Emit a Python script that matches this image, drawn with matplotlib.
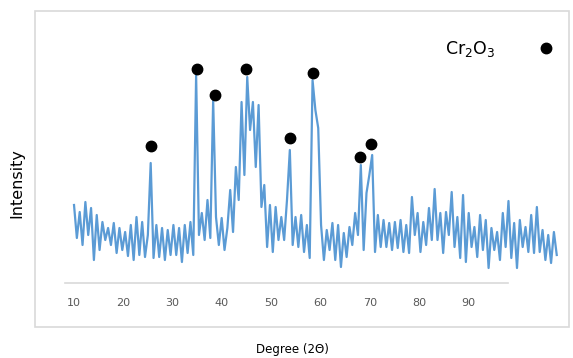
import numpy as np
import matplotlib
matplotlib.use("Agg")
import matplotlib.pyplot as plt
from matplotlib.patches import Rectangle

# XRD pattern of Cr2O3 (intensity in arbitrary units, equal 2theta steps)
start_2theta = 10.0
step_2theta = 0.576
intensity = [
    85, 52, 78, 45, 88, 55, 82, 30, 75, 40,
    68, 50, 62, 45, 67, 37, 62, 40, 58, 34,
    65, 30, 73, 35, 68, 33, 55, 127, 32, 65,
    33, 62, 30, 60, 35, 65, 35, 62, 28, 65,
    37, 68, 35, 215, 55, 77, 50, 90, 52, 190,
    73, 45, 72, 40, 62, 100, 58, 123, 90, 188,
    115, 213, 160, 188, 123, 185, 83, 105, 43, 85,
    38, 83, 50, 73, 50, 90, 140, 45, 73, 43,
    75, 38, 65, 32, 210, 180, 162, 65, 30, 60,
    40, 67, 30, 65, 23, 57, 33, 63, 45, 77,
    55, 125, 40, 97, 115, 135, 38, 75, 43, 70,
    43, 67, 40, 68, 42, 70, 38, 65, 37, 93,
    55, 77, 38, 68, 45, 82, 50, 101, 50, 77,
    37, 78, 55, 98, 43, 73, 32, 95, 28, 77,
    43, 63, 33, 75, 40, 70, 22, 62, 40, 58,
    30, 77, 43, 89, 32, 67, 22, 70, 43, 63,
    38, 75, 37, 83, 38, 60, 30, 55, 27, 58,
    35,
]
two_theta = start_2theta + step_2theta * np.arange(len(intensity))

# Cr2O3 peak markers
peak_2theta = [25.56, 35.01, 38.54, 44.95, 53.75, 58.48, 67.95, 70.30]
peak_marker = [144, 221, 195, 221, 152, 217, 133, 146]

tick_values = [10, 20, 30, 40, 50, 60, 70, 80, 90]

W, H = 573, 358
fig = plt.figure(figsize=(W / 100, H / 100), dpi=100)

# axes box in pixels: x 65..560, y 12..283 (from top)
ax = fig.add_axes([65 / W, (H - 283) / H, (560 - 65) / W, (283 - 12) / H])
ax.set_xlim(8.17, 108.58)
ax.set_ylim(7, 278)

ax.plot(two_theta, intensity, color='#5B9BD5', lw=1.6, solid_joinstyle='round')
ax.plot(peak_2theta, peak_marker, 'o', color='black', markersize=7.5, ls='none',
        label=r'Cr$_2$O$_3$')

for s in ['top', 'right', 'left']:
    ax.spines[s].set_visible(False)
ax.spines['bottom'].set_color('#d9d9d9')
ax.spines['bottom'].set_linewidth(1.2)
ax.spines['bottom'].set_bounds(8.17, 98.0)

ax.set_yticks([])
ax.set_xticks(tick_values)
ax.tick_params(axis='x', length=0, pad=11, labelsize=8, labelcolor='#595959')

leg = ax.legend(loc='upper right', bbox_to_anchor=(563 / W, (H - 30) / H),
                bbox_transform=fig.transFigure, frameon=False, markerfirst=False,
                fontsize=12.5, handlelength=1.0, handletextpad=2.4, borderpad=0)

# Chart area border
fig.add_artist(Rectangle((35 / W, (H - 327) / H), (569 - 35) / W, (327 - 11) / H,
                         transform=fig.transFigure, fill=False,
                         edgecolor='#d9d9d9', lw=1.2))

fig.text(17 / W, (H - 183) / H, 'Intensity', rotation=90, ha='center', va='center',
         fontsize=11.5, color='black')
fig.text(292 / W, (H - 350) / H, 'Degree (2Θ)', ha='center', va='center',
         fontsize=8.5, color='black')

fig.savefig('out.png', dpi=100)
